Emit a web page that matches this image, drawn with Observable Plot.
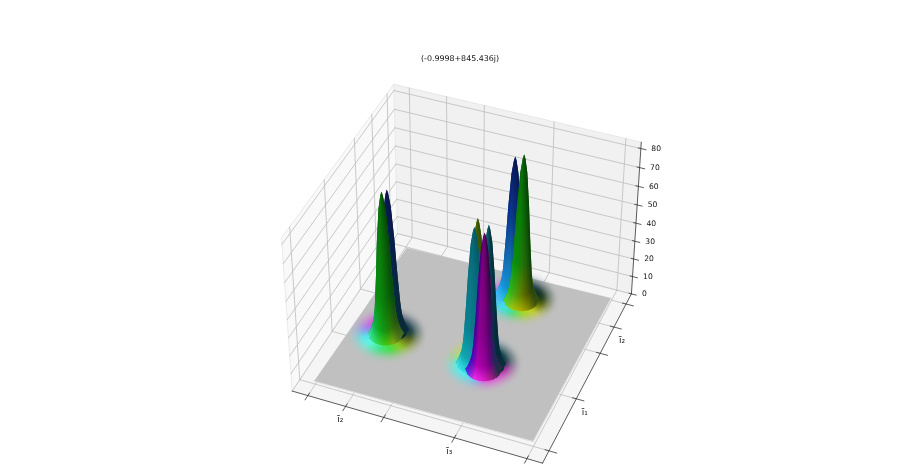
<!DOCTYPE html>
<html>
<head>
<meta charset="utf-8">
<script src="https://cdn.jsdelivr.net/npm/d3@7"></script>
<script src="https://cdn.jsdelivr.net/npm/@observablehq/plot@0.6"></script>
<style>
html,body{margin:0;padding:0;background:#fff;}
svg{display:block;filter:blur(0.35px);}
</style>
</head>
<body>
<div id="chart"></div>
<script>
// ---- values ----
const titleText = "(-0.9998+845.436j)";
const zTicks = [0,10,20,30,40,50,60,70,80];
const zTop = 83.3;
const i3Ticks = [0.065,0.22,0.375,0.657,0.94];
const i3Labels = ["","ī₂","","ī₃",""];
const barTicks = [0.067,0.36,0.629,0.79,0.935];
const barLabels = ["","ī₁","","ī₂",""];
// surface outline in axis fractions
const surfaceI3 = [0.053,0.93,0.935,0.07];
const surfaceBar = [0.08,0.09,0.945,0.93];
// camera calibration: axis-box corners (i3, bar, z) and where they fall on the page
const camI3 = [0,1,1,0,0,1,0];
const camBar = [0,0,1,1,0,1,1];
const camZ = [0,0,0,0,zTop,zTop,zTop];
const camX = [292,541.7,631,397,281,641,393];
const camY = [391,462.7,293,233,237,142,84];
// blob centres
const blobI3 = [0.602,0.205,0.602];
const blobBar = [0.81,0.425,0.41];
// base colours around each blob, every 30 degrees
const baseColors = [
 ["#506000","#103018","#103030","#204060","#6040c0","#e050f0","#7080f0","#40c0f0","#40e0f0","#40e090","#a0d820","#c8d020"],
 ["#606810","#103a40","#103848","#303060","#9040c0","#e050e0","#a080f0","#50e8f0","#60f8e0","#40e890","#40e040","#90c820"],
 ["#b020a0","#0c3a44","#0c3a44","#106070","#809040","#d8d830","#a0e070","#50f0e8","#50f0f0","#60d0f0","#e840e8","#e040d8"]
];
// lobe height profile: height fraction and floor radius
const profileZ = [0,0.02,0.04,0.07,0.11,0.15,0.2,0.3,0.43,0.65,0.88,0.97,1];
const profileR = [0.07,0.062,0.057,0.051,0.045,0.042,0.039,0.035,0.03,0.023,0.013,0.005,0];
const colorZ = [0,0.1,0.3,0.6,1];
// lobes, back to front
const lobeBlob = [0,0,1,1,2,2,2,2];
const lobeI3 = [-0.038,0.008,0.001,-0.008,-0.029,0.022,-0.03,0.018];
const lobeBar = [0.028,-0.002,0.031,0.003,0.026,0.005,-0.005,-0.026];
const lobePeak = [75,80,77,78,76,76,74,74.5];
const lobeColors = [
 [["#40c8ff","#30c0f0","#20c8a0","#20a080","#108060"],["#2090e0","#1090d0","#10a0a0","#108080","#106060"],["#1060b0","#1070b0","#106090","#105080","#104060"],["#0a2a88","#0a3a90","#0a3080","#0a2a70","#0a2060"],["#081660","#081660","#081450","#081450","#081448"]],
 [["#50d840","#a8c810","#b0b000","#808800","#304810"],["#20c020","#50a010","#608000","#505800","#204010"],["#0a9010","#0a8a08","#207808","#206008","#084008"],["#087a08","#0a8208","#0a7008","#0a5808","#064006"],["#065e06","#086e08","#065606","#064a06","#063c06"]],
 [["#104050","#103848","#0c3040","#0a2838","#102a38"],["#0a3a50","#0a3a50","#0a3444","#082c3c","#082838"],["#0a3a60","#0a3a58","#0a3450","#082c44","#08263c"],["#0a2a68","#0a2a60","#0a2658","#082050","#081c48"],["#081658","#081658","#081450","#081448","#081440"]],
 [["#50f0d0","#30e060","#40c810","#80a810","#406820"],["#10b860","#10a820","#149010","#2a7808","#2a5010"],["#088a18","#0a8a0a","#0a780a","#0a6208","#084a10"],["#087e10","#0a8210","#0a7208","#0a5e0a","#084808"],["#066606","#087608","#065e06","#085208","#064006"]],
 [["#c0d030","#909020","#606810","#405808","#304008"],["#708010","#607808","#506808","#405808","#304808"],["#507000","#507000","#486800","#406000","#385000"],["#4a6a00","#4a6a00","#466400","#405c00","#385000"],["#425e00","#425e00","#3e5800","#385000","#304800"]],
 [["#083848","#083848","#103038","#103038","#103038"],["#085060","#0a5868","#084858","#063040","#042838"],["#085060","#0a6070","#084858","#063040","#042838"],["#085868","#0a6474","#085060","#063848","#042c3c"],["#065460","#085e6c","#064e5c","#063844","#042c38"]],
 [["#50f0f0","#30e0e8","#20c0e0","#2080d0","#2040c0"],["#10a8b0","#10a4b0","#1098b0","#1080b0","#1060a0"],["#0a8090","#0a8090","#0a7888","#0a7080","#0a6878"],["#0a7484","#0a7888","#0a7080","#0a6878","#086070"],["#065664","#086674","#065e6c","#065664","#064e5c"]],
 [["#3030e0","#f030f0","#e020d0","#a02080","#103038"],["#3010c0","#b000b0","#a000a0","#700080","#103050"],["#3000a0","#900090","#800088","#600070","#102850"],["#2800a0","#860086","#7a007a","#5a0060","#201040"],["#280070","#700070","#6a006a","#500056","#240030"]]
];

// ---- projection from axis space to the page ----
function solve(A,b){
  const n=b.length, M=A.map((r,i)=>[...r,b[i]]);
  for(let i=0;i<n;i++){
    let p=i; for(let k=i+1;k<n;k++) if(Math.abs(M[k][i])>Math.abs(M[p][i])) p=k;
    [M[i],M[p]]=[M[p],M[i]];
    for(let k=0;k<n;k++) if(k!==i){const f=M[k][i]/M[i][i]; for(let j=i;j<=n;j++) M[k][j]-=f*M[i][j];}
  }
  return M.map((r,i)=>r[n]/r[i]);
}
const rowsA=[],rowsB=[];
camI3.forEach((u,i)=>{
  const v=camBar[i], w=camZ[i]/zTop, x=camX[i], y=camY[i];
  rowsA.push([u,v,w,1,0,0,0,0,-x*u,-x*v,-x*w]); rowsB.push(x);
  rowsA.push([0,0,0,0,u,v,w,1,-y*u,-y*v,-y*w]); rowsB.push(y);
});
const AtA=d3.range(11).map(i=>d3.range(11).map(j=>d3.sum(rowsA,r=>r[i]*r[j])));
const Atb=d3.range(11).map(i=>d3.sum(rowsA,(r,k)=>r[i]*rowsB[k]));
const H=solve(AtA,Atb);
function P(u,v,z){
  const w=z/zTop, d=H[8]*u+H[9]*v+H[10]*w+1;
  return [(H[0]*u+H[1]*v+H[2]*w+H[3])/d,(H[4]*u+H[5]*v+H[6]*w+H[7])/d];
}
let pid=0;
function addPoly(rows,pts,color,extra){
  const id=pid++;
  for(const p of pts) rows.push({x:p[0],y:p[1],id,color,...extra});
}
function seg(rows,a,b,extra){
  const id=pid++;
  rows.push({x:a[0],y:a[1],id,...extra},{x:b[0],y:b[1],id,...extra});
}

// panes
const panes=[];
addPoly(panes,[[0,0,0],[0,1,0],[0,1,zTop],[0,0,zTop]].map(p=>P(...p)),"#f9f9f9");
addPoly(panes,[[0,1,0],[1,1,0],[1,1,zTop],[0,1,zTop]].map(p=>P(...p)),"#f1f1f1");
addPoly(panes,[[0,0,0],[1,0,0],[1,1,0],[0,1,0]].map(p=>P(...p)),"#f5f5f5");

// grid, ticks, axes
const grid=[], edges=[], axisLines=[], ticks=[];
for(const z of zTicks){
  seg(grid,P(0,0,z),P(0,1,z));
  seg(grid,P(0,1,z),P(1,1,z));
  seg(ticks,P(0.99,1,z),P(1.02,1,z));
}
for(const u of i3Ticks){
  seg(grid,P(u,0,0),P(u,1,0));
  seg(grid,P(u,1,0),P(u,1,zTop));
  seg(ticks,P(u,0.015,0),P(u,-0.025,0));
}
for(const v of barTicks){
  seg(grid,P(0,v,0),P(1,v,0));
  seg(grid,P(0,v,0),P(0,v,zTop));
  seg(ticks,P(0.985,v,0),P(1.03,v,0));
}
for(const e of [[[0,0,0],[0,1,0]],[[0,1,0],[1,1,0]],[[0,1,0],[0,1,zTop]],[[0,0,0],[0,0,zTop]],[[0,0,zTop],[0,1,zTop]],[[0,1,zTop],[1,1,zTop]]])
  seg(edges,P(...e[0]),P(...e[1]));
seg(axisLines,P(0,0,0),P(1,0,0));
seg(axisLines,P(1,0,0),P(1,1,0));
seg(axisLines,P(1,1,0),P(1,1,zTop));

// surface
const surface=[];
addPoly(surface,surfaceI3.map((u,i)=>P(u,surfaceBar[i],0)),"#c0c0c0");
const rim=[];
seg(rim,P(surfaceI3[0],surfaceBar[0],0),P(surfaceI3[1],surfaceBar[1],0));
seg(rim,P(surfaceI3[1],surfaceBar[1],0),P(surfaceI3[2],surfaceBar[2],0));

// blob bases
const halo=[], core=[];
const subSectors=4;
baseColors.forEach((cols,b)=>{
  const cu=blobI3[b], cv=blobBar[b];
  const ring=[...cols,cols[0]];
  const hue=d3.piecewise(d3.interpolateRgb,ring);
  const n=cols.length*subSectors, step=2*Math.PI/n;
  for(let k=0;k<n;k++){
    const c=hue(k/n);
    const t0=(k-0.5)*step, t1=(k+0.5)*step;
    const fan=(r)=>[P(cu,cv,0),P(cu+r*Math.cos(t0),cv+r*Math.sin(t0),0),P(cu+r*Math.cos(t1),cv+r*Math.sin(t1),0)];
    addPoly(halo,fan(0.13),c);
    addPoly(core,fan(0.102),c);
  }
});

// lobes: a solid underlay, then ribbons running foot to tip with vertical gradients
const lobeGroups=[[],[],[]];
const gradients=[];
const ex=0.91, ey=0.415;
const bands=14;
lobeColors.forEach((table,l)=>{
  const rows=lobeGroups[lobeBlob[l]];
  const b=lobeBlob[l], cu=blobI3[b]+lobeI3[l], cv=blobBar[b]+lobeBar[l], peak=lobePeak[l];
  const rowFns=table.map(r=>d3.piecewise(d3.interpolateRgb,r));
  // a point on the front half of the round lobe
  const pt=(zf,r,s)=>{
    const c=2*s-1, q=c*r, f=r*Math.sqrt(Math.max(0,1-c*c));
    return P(cu+q*ex+f*ey,cv+q*ey-f*ex,zf*peak);
  };
  const addRibbon=(s0,s1,sm,id)=>{
    const left=profileZ.map((z,i)=>pt(z,profileR[i],s0));
    const right=profileZ.map((z,i)=>pt(z,profileR[i],s1)).reverse();
    gradients.push({id,y1:pt(0,profileR[0],sm)[1],y2:pt(1,0,sm)[1],x:pt(1,0,sm)[0],stops:rowFns.map(f=>f(sm))});
    addPoly(rows,[...left,...right],`url(#${id})`);
  };
  addRibbon(0,1,0.5,`lobe-${l}-base`);
  for(let k=0;k<bands;k++){
    addRibbon(Math.max(0,(k-0.5)/bands),(k+1)/bands,(k+0.5)/bands,`lobe-${l}-${k}`);
  }
});

const polyMark=(rows,o={})=>Plot.line(rows,{x:"x",y:"y",z:"id",fill:"color",stroke:"color",strokeWidth:0.4,...o});
const lobeMark=(rows)=>Plot.line(rows,{x:"x",y:"y",z:"id",fill:"color",stroke:"none",imageFilter:"blur(0.45px)"});
const font="DejaVu Sans";
const zLabelRows=zTicks.map(z=>{const p=P(1,1,z);return {x:p[0],y:p[1],t:String(z)};});
const i3LabelRows=i3Ticks.map((u,i)=>{const p=P(u,-0.05,-2.5);return {x:p[0],y:p[1],t:i3Labels[i]};}).filter(d=>d.t);
const barLabelRows=barTicks.map((v,i)=>{const p=P(1.035,v,-6);return {x:p[0],y:p[1],t:barLabels[i]};}).filter(d=>d.t);

const chart=Plot.plot({
  width:897,height:468,
  marginTop:0,marginRight:0,marginBottom:0,marginLeft:0,
  x:{domain:[0,897],range:[0,897],axis:null},
  y:{domain:[0,468],range:[0,468],axis:null},
  color:{type:"identity"},
  style:{background:"#fff"},
  marks:[
    polyMark(panes),
    Plot.line(edges,{x:"x",y:"y",z:"id",stroke:"#e4e4e4",strokeWidth:0.8}),
    Plot.line(grid,{x:"x",y:"y",z:"id",stroke:"#bcbcbc",strokeWidth:0.8}),
    polyMark(surface),
    Plot.line(rim,{x:"x",y:"y",z:"id",stroke:"#e2e2e2",strokeWidth:1}),
    Plot.line(axisLines,{x:"x",y:"y",z:"id",stroke:"#333",strokeWidth:0.8}),
    Plot.line(ticks,{x:"x",y:"y",z:"id",stroke:"#333",strokeWidth:0.8}),
    polyMark(halo,{opacity:0.5,imageFilter:"blur(3px)",strokeWidth:0.3}),
    polyMark(core,{imageFilter:"blur(2.2px)",strokeWidth:0.3}),
    lobeMark(lobeGroups[0]),
    lobeMark(lobeGroups[1]),
    lobeMark(lobeGroups[2]),
    Plot.text(zLabelRows,{x:"x",y:"y",text:"t",textAnchor:"start",dx:10.5,fontSize:7.6,fontFamily:font,fill:"#111"}),
    Plot.text(i3LabelRows,{x:"x",y:"y",text:"t",fontSize:9,fontFamily:font,fill:"#222"}),
    Plot.text(barLabelRows,{x:"x",y:"y",text:"t",fontSize:9,fontFamily:font,fill:"#222"}),
    Plot.text([titleText],{frameAnchor:"top",dx:11,dy:55,fontSize:7.9,fontFamily:font,fill:"#111",text:d=>d})
  ]
});
// gradient definitions for the lobe ribbons
const defs=d3.create("svg:defs");
for(const g of gradients){
  const lg=defs.append("linearGradient").attr("id",g.id).attr("gradientUnits","userSpaceOnUse")
    .attr("x1",g.x).attr("x2",g.x).attr("y1",g.y1).attr("y2",g.y2);
  g.stops.forEach((c,i)=>lg.append("stop").attr("offset",colorZ[i]).attr("stop-color",c));
}
chart.insertBefore(defs.node(),chart.firstChild);
document.getElementById("chart").append(chart);
</script>
</body>
</html>
